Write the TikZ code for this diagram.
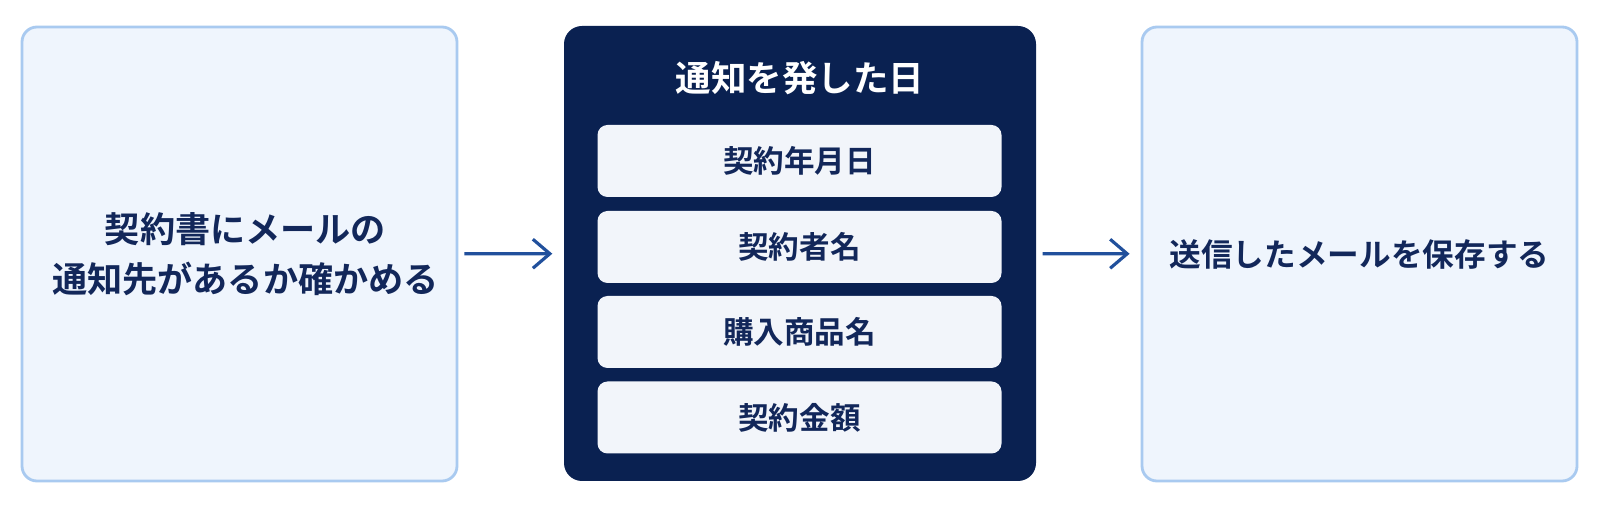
\documentclass[tikz,border=0pt]{standalone}
\usepackage{fontspec}
\setmainfont{Noto Sans CJK JP}[BoldFont={* Bold}]
\usetikzlibrary{arrows.meta}
\definecolor{navy}{HTML}{0A2151}
\definecolor{inktext}{HTML}{12275A}
\definecolor{sidefill}{HTML}{EFF5FD}
\definecolor{sideline}{HTML}{A9CAF0}
\definecolor{itemfill}{HTML}{F2F5FA}
\definecolor{flowblue}{HTML}{21509C}
\tikzset{>={Straight Barb[length=1.7mm,width=2.9mm]}}
\tikzset{
  sidebox/.style={draw=sideline, fill=sidefill, line width=0.8pt, rounded corners=0.15cm,
    minimum width=4.35cm, minimum height=4.54cm, align=center, text=inktext,
    font=\bfseries\fontsize{10}{14.2}\selectfont},
  darkbox/.style={fill=navy, rounded corners=0.18cm, minimum width=4.72cm, minimum height=4.55cm},
  itembox/.style={fill=itemfill, rounded corners=0.1cm, minimum width=4.04cm, minimum height=0.72cm,
    text=inktext, font=\bfseries\fontsize{8.7}{10}\selectfont},
  flow/.style={->, draw=flowblue, line width=0.9pt, shorten <=0.06cm, shorten >=0.11cm}
}

\begin{document}
\begin{tikzpicture}

\fill[white] (0,0) rectangle (16,-5.09);
\useasboundingbox (0,0) rectangle (16,-5.09);

\node[sidebox] (check) at (2.395,-2.54) {\hspace{0.12cm}契約書にメールの\\\hspace{0.12cm}通知先があるか確かめる};
\node[sidebox, font=\bfseries\fontsize{9}{10}\selectfont] (save) at (13.595,-2.54) {送信したメールを保存する};

\node[darkbox] (notice) at (8.00,-2.535) {};
\node[text=white, font=\bfseries\fontsize{10.1}{12}\selectfont] (title) at (8.00,-0.78) {通知を発した日};

\node[itembox] (date) at (7.995,-1.61) {契約年月日};
\node[itembox] (name) at (7.995,-2.47) {契約者名};
\node[itembox] (goods) at (7.995,-3.32) {購入商品名};
\node[itembox] (amount) at (7.995,-4.175) {契約金額};

\draw[flow] (check) -- (notice);
\draw[flow] (notice) -- (save);

\end{tikzpicture}
\end{document}
